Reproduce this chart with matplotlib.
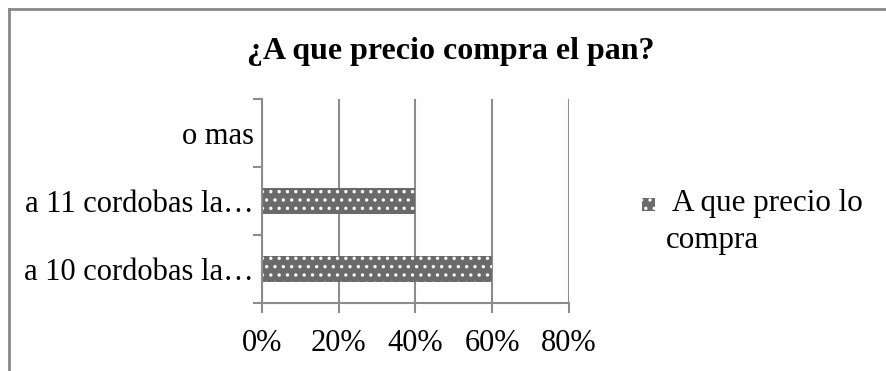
import matplotlib.pyplot as plt
from matplotlib.lines import Line2D
from matplotlib.patches import Rectangle
from matplotlib.ticker import FixedLocator, PercentFormatter

categorias = ['a 10 cordobas la…', 'a 11 cordobas la…', 'o mas']
porcentajes = [0.60, 0.40, 0.0]
serie = 'A que precio lo compra'
titulo = '¿A que precio compra el pan?'
ticks_x = [0.0, 0.2, 0.4, 0.6, 0.8]

plt.rcParams['font.family'] = ['Liberation Serif', 'DejaVu Serif']
plt.rcParams['hatch.color'] = 'white'
plt.rcParams['hatch.linewidth'] = 1.2

gris = '#8c8c8c'
relleno = '#6a6a6a'

fig = plt.figure(figsize=(8.87, 3.71), dpi=100)
ax = fig.add_axes([262 / 887, (371 - 303) / 371, 307 / 887, 204 / 371])

pos = list(range(len(categorias)))
ax.barh(pos, porcentajes, height=0.39, color=relleno, hatch='..', linewidth=0)

ax.set_xlim(0, 0.8)
ax.set_ylim(-0.5, len(categorias) - 0.5)
ax.set_xticks(ticks_x)
ax.xaxis.set_major_formatter(PercentFormatter(1.0, decimals=0))
ax.set_yticks(pos)
ax.set_yticklabels(categorias)
ax.yaxis.set_minor_locator(FixedLocator([p - 0.5 for p in pos] + [pos[-1] + 0.5]))

ax.grid(axis='x', color=gris, linewidth=1.5)
ax.set_axisbelow(True)
for lado in ['top', 'right']:
    ax.spines[lado].set_visible(False)
for lado in ['left', 'bottom']:
    ax.spines[lado].set_color(gris)
    ax.spines[lado].set_linewidth(1.5)

ax.tick_params(axis='x', length=7, width=1.5, color=gris, pad=12, labelsize=22)
ax.tick_params(axis='y', which='major', length=0, pad=6, labelsize=22)
ax.tick_params(axis='y', which='minor', length=6.5, width=1.5, color=gris)

fig.text(451 / 887, 1 - 52 / 371, titulo, ha='center', va='center',
         fontsize=23, fontweight='bold')

# leyenda
fig.patches.append(Rectangle((642 / 887, 1 - 211 / 371), 13 / 887, 13 / 371,
                             transform=fig.transFigure, facecolor=relleno,
                             hatch='..', linewidth=0))
fig.text(666 / 887, 1 - 222 / 371, ' A que precio lo\ncompra', ha='left',
         va='center', fontsize=22.4, linespacing=1.36)

# marco del grafico (solo se ven los bordes izquierdo y superior)
borde = dict(color='#888888', linewidth=2, transform=fig.transFigure)
fig.lines.append(Line2D([9 / 887, 9 / 887], [-0.1, 1 - 9 / 371], **borde))
fig.lines.append(Line2D([9 / 887, 1.1], [1 - 9 / 371, 1 - 9 / 371], **borde))

fig.savefig('out.png', dpi=100)
